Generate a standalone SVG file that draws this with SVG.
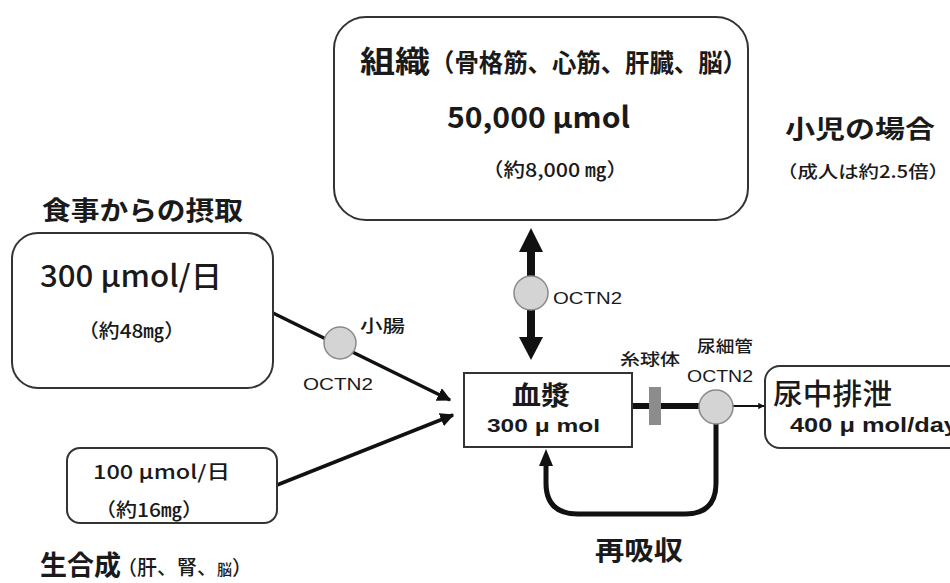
<svg xmlns="http://www.w3.org/2000/svg" width="950" height="583" viewBox="0 0 950 583">
<style>
text{font-family:"Noto Sans CJK JP","Noto Sans",sans-serif;fill:#1a1a1a;font-weight:500}
.a{font-family:"Liberation Sans",Arial,"Noto Sans CJK JP",sans-serif;font-weight:normal}
.b{font-weight:bold}
.box{fill:#fff;stroke:#333;stroke-width:2}
.dot{fill:#d4d4d4;stroke:#8a8a8a;stroke-width:1.5}
.ln{fill:none;stroke:#111;stroke-linecap:butt}
</style>
<defs>
<marker id="ah" viewBox="0 0 10 10" refX="9" refY="5" markerWidth="4" markerHeight="4" orient="auto" markerUnits="strokeWidth"><path d="M0,0 L10,5 L0,10 z" fill="#111"/></marker>
<marker id="ahs" viewBox="0 0 10 10" refX="9" refY="5" markerWidth="3.2" markerHeight="3.2" orient="auto" markerUnits="strokeWidth"><path d="M0,0 L10,5 L0,10 z" fill="#111"/></marker>
</defs>
<rect width="950" height="583" fill="#fff"/>

<g id="connectors">
<line class="ln" x1="273" y1="313" x2="450" y2="400" stroke-width="3.5" marker-end="url(#ah)"/>
<line class="ln" x1="277" y1="485" x2="453" y2="415" stroke-width="3.5" marker-end="url(#ah)"/>
<line class="ln" x1="531" y1="250" x2="531" y2="340" stroke-width="8"/>
<path d="M519,252 L531,228 L543,252 z" fill="#111"/>
<path d="M519,337 L531,360 L543,337 z" fill="#111"/>
<line class="ln" x1="632" y1="406" x2="705" y2="406" stroke-width="6"/>
<line class="ln" x1="732" y1="406" x2="764" y2="406" stroke-width="2" marker-end="url(#ahs)"/>
<path class="ln" d="M716,423 L716,483 Q716,514 685,514 L578,514 Q546,514 546,483 L546,464" stroke-width="5"/>
<path d="M539,466 L546,449 L553,466 z" fill="#111"/>
</g>

<g id="tissue">
<rect class="box" x="334" y="17" width="414" height="203" rx="32"/>
<text class="b" x="360" y="72" font-size="30" textLength="70" lengthAdjust="spacingAndGlyphs">組織</text>
<text class="b" x="430" y="72" font-size="25" textLength="317" lengthAdjust="spacingAndGlyphs">（骨格筋、心筋、肝臓、脳）</text>
<text class="b" x="447" y="128" font-size="29" textLength="183" lengthAdjust="spacingAndGlyphs">50,000 μmol</text>
<text x="482" y="177" font-size="19" textLength="146" lengthAdjust="spacingAndGlyphs">（約8,000 ㎎）</text>
</g>

<g id="child-note">
<text class="b" x="785" y="138" font-size="25" textLength="150" lengthAdjust="spacingAndGlyphs">小児の場合</text>
<text x="777" y="178" font-size="17" textLength="172" lengthAdjust="spacingAndGlyphs">（成人は約2.5倍）</text>
</g>

<g id="diet">
<text class="b" x="42" y="220" font-size="26" textLength="201" lengthAdjust="spacingAndGlyphs">食事からの摂取</text>
<rect class="box" x="12" y="233" width="261" height="155" rx="26"/>
<text x="40" y="287" font-size="30" textLength="182" lengthAdjust="spacingAndGlyphs">300 μmol/日</text>
<text x="78" y="338" font-size="19" textLength="107" lengthAdjust="spacingAndGlyphs">（約48㎎）</text>
</g>

<g id="intestine">
<circle class="dot" cx="340" cy="343" r="16"/>
<text x="360" y="332" font-size="17" textLength="45" lengthAdjust="spacingAndGlyphs">小腸</text>
<text class="a" x="303" y="390" font-size="16" textLength="70" lengthAdjust="spacingAndGlyphs">OCTN2</text>
</g>

<g id="biosynthesis">
<rect class="box" x="67" y="448" width="210" height="75" rx="13"/>
<text x="93" y="479" font-size="19" textLength="137" lengthAdjust="spacingAndGlyphs">100 μmol/日</text>
<text x="95" y="517" font-size="19" textLength="108" lengthAdjust="spacingAndGlyphs">（約16㎎）</text>
<text x="40" y="575"><tspan class="b" font-size="27">生合成</tspan><tspan font-size="20" dx="-4">（肝、腎、</tspan><tspan font-size="15">脳</tspan><tspan font-size="20">）</tspan></text>
</g>

<g id="tissue-transport">
<circle class="dot" cx="531" cy="293" r="17"/>
<text class="a" x="553" y="304" font-size="16" textLength="69" lengthAdjust="spacingAndGlyphs">OCTN2</text>
</g>

<g id="plasma">
<rect class="box" x="464" y="373" width="168" height="74"/>
<text class="b" x="512" y="405" font-size="26" textLength="58" lengthAdjust="spacingAndGlyphs">血漿</text>
<text class="a b" x="487" y="432" font-size="19" textLength="113" lengthAdjust="spacingAndGlyphs">300 μ mol</text>
</g>

<g id="glomerulus">
<rect x="649" y="387" width="12" height="38" fill="#8c8c8c"/>
<text x="620" y="365" font-size="16" textLength="60" lengthAdjust="spacingAndGlyphs">糸球体</text>
</g>

<g id="tubule">
<circle class="dot" cx="716" cy="407" r="17"/>
<text x="697" y="352" font-size="16" textLength="56" lengthAdjust="spacingAndGlyphs">尿細管</text>
<text class="a" x="687" y="382" font-size="17" textLength="66" lengthAdjust="spacingAndGlyphs">OCTN2</text>
</g>

<g id="urine">
<rect class="box" x="765" y="366" width="200" height="82" rx="15"/>
<text x="773" y="405" font-size="29" textLength="119" lengthAdjust="spacingAndGlyphs">尿中排泄</text>
<text class="a b" x="790" y="432" font-size="20" textLength="168" lengthAdjust="spacingAndGlyphs">400 μ mol/day</text>
</g>

<g id="reabsorption">
<text class="b" x="595" y="560" font-size="26" textLength="88" lengthAdjust="spacingAndGlyphs">再吸収</text>
</g>
</svg>
